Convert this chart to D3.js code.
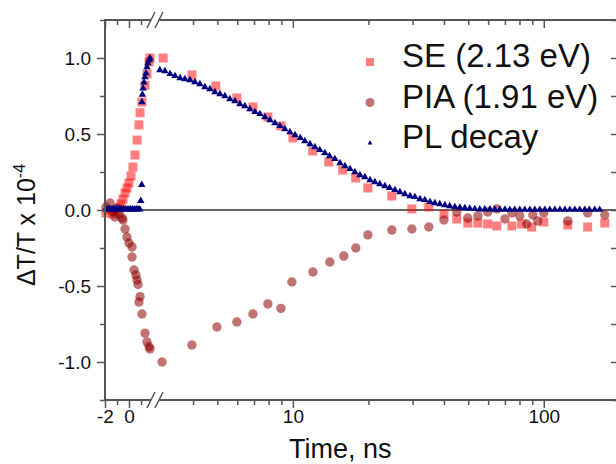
<!DOCTYPE html>
<html>
<head>
<meta charset="utf-8">
<script src="https://cdn.jsdelivr.net/npm/d3@7"></script>
<style>
  body { margin: 0; background: #fff; }
  text { font-family: "Liberation Sans", Arial, sans-serif; fill: #111; }
</style>
</head>
<body>
<svg id="chart" width="616" height="464"></svg>
<script>
// ---- data: [time in ns, dT/T in 1e-4] ----
var seData = [
  [-1.92,-0.02],[-1.58,0.0],[-1.33,-0.026],[-1.08,-0.007],[-0.83,0.013],[-0.67,0.04],
  [-0.5,0.072],[-0.33,0.112],[-0.17,0.145],[0.0,0.178],[0.17,0.224],[0.33,0.283],
  [0.5,0.362],[0.67,0.46],[0.83,0.56],[0.92,0.64],[1.08,0.71],[1.33,0.82],
  [1.5,0.895],[1.67,0.974],[1.75,1.0],
  [3.04,1.0],[3.96,0.888],[4.93,0.816],[5.98,0.737],[6.93,0.678],[7.95,0.612],
  [8.96,0.553],[10,0.474],[12.0,0.388],[13.9,0.316],[15.8,0.263],[17.8,0.211],
  [19.9,0.145],[24.8,0.092],[29.8,0.007],[34.8,0.02],[40.0,-0.026],[45.0,-0.059],
  [49.8,-0.086],[54.6,-0.086],[59.8,-0.092],[65.0,-0.105],[74.6,-0.105],[81.6,-0.092],
  [89.5,-0.112],[100,-0.079],[124.7,-0.099],[149.6,-0.112],[175,-0.086]
];

var piaData = [
  [-1.92,0.02],[-1.58,0.046],[-1.33,-0.013],[-1.17,-0.046],[-1.0,0.013],[-0.83,-0.026],
  [-0.58,-0.053],[-0.5,-0.066],[-0.33,-0.125],[-0.17,-0.178],[0.0,-0.217],[0.25,-0.243],
  [0.25,-0.309],[0.42,-0.395],[0.58,-0.428],[0.67,-0.46],[0.75,-0.49],[0.92,-0.57],
  [0.83,-0.605],[1.08,-0.684],[1.33,-0.81],[1.5,-0.868],[1.67,-0.9],[1.75,-0.914],
  [3.01,-1.0],[3.96,-0.888],[4.98,-0.77],[5.98,-0.737],[6.93,-0.684],[7.95,-0.618],
  [8.96,-0.647],[9.91,-0.474],[12.02,-0.408],[14.04,-0.342],[15.96,-0.303],[17.82,-0.25],
  [19.9,-0.164],[24.8,-0.132],[29.8,-0.125],[34.8,-0.112],[40.0,-0.066],[45.0,-0.013],
  [49.8,-0.053],[54.6,-0.039],[59.8,-0.013],[65.0,0.007],[70.0,-0.059],[74.6,-0.02],
  [80.2,-0.039],[85.5,-0.092],[90.4,-0.033],[94.6,-0.072],[100,-0.02],[124.7,-0.072],
  [149.6,-0.02],[175,-0.033]
];

var plData = [
  [-1.95,0.005],[-1.8,0.004],[-1.65,0.006],[-1.5,0.005],[-1.35,0.004],[-1.2,0.005],
  [-1.05,0.006],[-0.9,0.005],[-0.75,0.004],[-0.6,0.005],[-0.45,0.006],[-0.3,0.005],
  [-0.15,0.004],[0.0,0.005],[0.15,0.006],[0.3,0.005],[0.45,0.004],[0.6,0.005],
  [0.75,0.006],[0.9,0.005],
  [0.98,0.06],[1.06,0.165],[1.08,0.71],[1.12,0.76],[1.17,0.8],[1.25,0.84],[1.33,0.875],
  [1.42,0.9],[1.5,0.94],[1.58,0.967],[1.67,0.987],[1.75,1.0],
  [2.95,0.921],[3.09,0.914],[3.24,0.895],[3.39,0.882],[3.55,0.868],[3.71,0.862],
  [3.89,0.855],[4.07,0.842],[4.26,0.829],[4.46,0.809],[4.67,0.796],[4.89,0.776],
  [5.12,0.763],[5.36,0.75],[5.61,0.73],[5.88,0.717],[6.15,0.697],[6.44,0.684],
  [6.74,0.664],[7.06,0.645],[7.39,0.632],[7.73,0.612],[8.1,0.592],[8.48,0.572],
  [8.88,0.553],[9.29,0.533],[9.73,0.513],[10.2,0.493],[10.7,0.474],[11.16,0.454],
  [11.7,0.434],[12.24,0.414],[12.8,0.395],[13.41,0.375],[14.0,0.355],[14.7,0.336],
  [15.4,0.309],[16.12,0.289],[16.9,0.27],[17.66,0.25],[18.5,0.23],[19.36,0.217],
  [20.3,0.197],[21.22,0.184],[22.2,0.171],[23.26,0.158],[24.3,0.145],[25.5,0.132],
  [26.7,0.118],[27.95,0.105],[29.3,0.092],[30.63,0.086],[32.1,0.072],[33.57,0.066],
  [35.2,0.053],[36.8,0.046],[38.5,0.039],[40.33,0.033],[42.2,0.026],[44.21,0.02],
  [46.3,0.016],[48.46,0.013],[50.7,0.01],[53.11,0.007],[55.6,0.005],[58.2,0.004],
  [61.0,0.004],[63.8,0.003],[66.8,0.003],[70.0,0.003],[73.2,0.002],[76.6,0.002],
  [80.2,0.002],[84.0,0.002],[88.0,0.002],[92.1,0.002],[96.4,0.002],[101,0.002],
  [105.7,0.002],[110.7,0.002],[115.9,0.002],[121.3,0.002],[127,0.002],[133,0.002],
  [139,0.002],[145.6,0.002],[152,0.002],[159.6,0.002],[167,0.002]
];

var legendLabels = ["SE (2.13 eV)", "PIA (1.91 eV)", "PL decay"];

var yMajor = [-1, -0.5, 0, 0.5, 1],
    yMinor = [-1.25, -0.75, -0.25, 0.25, 0.75, 1.25];
var xLinMajor = [-2, 0], xLinMinor = [-1, 1];
var xLogMajor = [10, 100], xLogMinor = [4, 5, 6, 7, 8, 9, 20, 30, 40, 50, 60, 70, 80, 90];

//-----------------------------------------------------
var svg = d3.select("#chart");
var L = 105, R = 616, T = 20, B = 400;
var axisColor = "#555";

// broken x axis: linear part, then log part
var xLin = d3.scaleLinear().domain([-2, 2]).range([L, 153]);
var xLog = d3.scaleLog().domain([2.9, 194]).range([158, R]);
function xPos(t) { return t <= 2.2 ? xLin(t) : xLog(t); }
var y = d3.scaleLinear().domain([-1.25, 1.25]).range([B, T]);

var fmt = function(d) { return d.toFixed(1); };

// zero line
svg.append("line")
  .attr("x1", L).attr("x2", R)
  .attr("y1", y(0)).attr("y2", y(0))
  .attr("stroke", "#333").attr("stroke-width", 1.5);

// ---- series ----
svg.append("g").selectAll("rect")
  .data(seData).enter().append("rect")
  .attr("x", function(d) { return xPos(d[0]) - 4.5; })
  .attr("y", function(d) { return y(d[1]) - 4.5; })
  .attr("width", 9).attr("height", 9)
  .attr("fill", "rgba(255,0,0,0.5)");

svg.append("g").selectAll("circle")
  .data(piaData).enter().append("circle")
  .attr("cx", function(d) { return xPos(d[0]); })
  .attr("cy", function(d) { return y(d[1]); })
  .attr("r", 4.7)
  .attr("fill", "rgba(140,0,0,0.55)");

var tri = d3.symbol().type(d3.symbolTriangle).size(24);
svg.append("g").selectAll("path")
  .data(plData).enter().append("path")
  .attr("d", tri)
  .attr("transform", function(d) { return "translate(" + xPos(d[0]) + "," + y(d[1]) + ")"; })
  .attr("fill", "#000080");

// ---- axes ----
function styleAxis(g) {
  g.select(".domain").remove();
  g.selectAll("line").attr("stroke", axisColor).attr("stroke-width", 1.5);
  g.selectAll("text").style("font-size", "19px").attr("fill", "#111");
}

// left
svg.append("g").attr("transform", "translate(" + L + ",0)")
  .call(d3.axisLeft(y).tickValues(yMajor).tickSize(8).tickPadding(6).tickFormat(fmt)).call(styleAxis);
svg.append("g").attr("transform", "translate(" + L + ",0)")
  .call(d3.axisLeft(y).tickValues(yMinor).tickSize(5).tickFormat("")).call(styleAxis);
// right (inward)
svg.append("g").attr("transform", "translate(" + (R + 1) + ",0)")
  .call(d3.axisLeft(y).tickValues(yMajor.concat(yMinor)).tickSize(6).tickFormat("")).call(styleAxis);

// bottom and top, both parts
[[xLin, xLinMajor, xLinMinor], [xLog, xLogMajor, xLogMinor]].forEach(function(p) {
  svg.append("g").attr("transform", "translate(0," + B + ")")
    .call(d3.axisBottom(p[0]).tickValues(p[1]).tickSize(8).tickPadding(2)
      .tickFormat(function(d) { return String(d); })).call(styleAxis);
  svg.append("g").attr("transform", "translate(0," + B + ")")
    .call(d3.axisBottom(p[0]).tickValues(p[2]).tickSize(5).tickFormat("")).call(styleAxis);
  svg.append("g").attr("transform", "translate(0," + T + ")")
    .call(d3.axisBottom(p[0]).tickValues(p[1]).tickSize(8).tickFormat("")).call(styleAxis);
  svg.append("g").attr("transform", "translate(0," + T + ")")
    .call(d3.axisBottom(p[0]).tickValues(p[2]).tickSize(5).tickFormat("")).call(styleAxis);
});

// axis lines with the break
var b1 = xLin.range()[1] - 2, b2 = xLog.range()[0] + 1;
[T, B].forEach(function(yy) {
  svg.append("line").attr("x1", L).attr("x2", b1).attr("y1", yy).attr("y2", yy)
    .attr("stroke", axisColor).attr("stroke-width", 2);
  svg.append("line").attr("x1", b2).attr("x2", R).attr("y1", yy).attr("y2", yy)
    .attr("stroke", axisColor).attr("stroke-width", 2);
  [b1, b2].forEach(function(c) {
    svg.append("line").attr("x1", c - 4).attr("x2", c + 4)
      .attr("y1", yy + 8).attr("y2", yy - 8)
      .attr("stroke", axisColor).attr("stroke-width", 1.5);
  });
});
svg.append("line").attr("x1", L).attr("x2", L).attr("y1", T - 1).attr("y2", B + 1)
  .attr("stroke", axisColor).attr("stroke-width", 2);

// ---- titles ----
svg.append("text")
  .attr("x", (xPos(10) + xPos(100)) / 2 - 78).attr("y", 458)
  .attr("text-anchor", "middle").style("font-size", "27px")
  .text("Time, ns");

var yt = svg.append("text")
  .attr("transform", "translate(35," + (y(0) + 15) + ") rotate(-90)")
  .attr("text-anchor", "middle").style("font-size", "25px");
yt.append("tspan").text("\u0394T/T x 10");
yt.append("tspan").attr("dy", -10).style("font-size", "16px").text("-4");

// ---- legend ----
var leg = svg.append("g").attr("transform", "translate(370,62)");
legendLabels.forEach(function(lab, i) {
  var g = leg.append("g").attr("transform", "translate(0," + (i * 40.5) + ")");
  if (i === 0) g.append("rect").attr("x", -4).attr("y", -4).attr("width", 8).attr("height", 8)
    .attr("fill", "rgba(255,0,0,0.5)");
  if (i === 1) g.append("circle").attr("r", 4.5).attr("fill", "rgba(140,0,0,0.55)");
  if (i === 2) g.append("path").attr("d", d3.symbol().type(d3.symbolTriangle).size(10)).attr("fill", "#000080");
  g.append("text").attr("x", 32).attr("y", 5).style("font-size", "33px").text(lab);
});
</script>
</body>
</html>
